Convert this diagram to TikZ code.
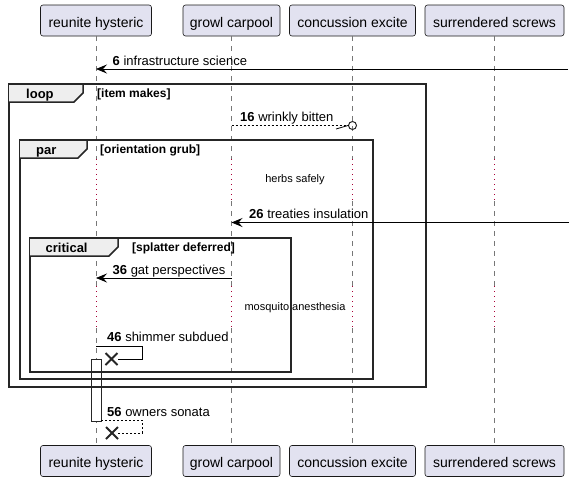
\documentclass[tikz,border=0pt]{standalone}
\usepackage{fontspec}
\setmainfont{Liberation Sans}
\usepackage{tikz}
\usetikzlibrary{arrows.meta, calc, shapes.misc}

\definecolor{partfill}{HTML}{E2E2F0}
\definecolor{tabfill}{HTML}{EEEEEE}
\definecolor{delayred}{HTML}{A80036}
\definecolor{lifegray}{HTML}{777777}

\begin{document}
\begin{tikzpicture}[x=1pt, y=-1pt,
  participant/.style={draw=black!90, fill=partfill, rounded corners=2.5pt, line width=0.6pt,
    minimum height=31pt, inner sep=0pt, text height=13pt, text depth=0pt,
    font=\fontsize{14}{16}\selectfont},
  lifeline/.style={draw=lifegray, line width=0.8pt, dash pattern=on 5pt off 5pt},
  delayline/.style={draw=delayred, line width=1pt, dash pattern=on 1pt off 4pt},
  msg/.style={line width=0.8pt, -{Stealth[length=11pt, width=9pt, inset=4pt]}},
  msgtext/.style={anchor=base west, inner sep=0pt, font=\fontsize{13}{15}\selectfont},
  delaytext/.style={inner sep=0pt, font=\fontsize{11}{13}\selectfont},
  groupframe/.style={draw=black!85, line width=1.5pt},
  grouptab/.style={draw=black!85, line width=1.5pt, fill=tabfill},
  tabtext/.style={anchor=base west, inner sep=0pt, font=\fontsize{13}{15}\selectfont\bfseries},
  condtext/.style={anchor=base west, inner sep=0pt, font=\fontsize{12}{14}\selectfont\bfseries},
  killmark/.style={cross out, draw=black!85, line width=2pt, minimum size=10pt, inner sep=0pt}
  ]
  \useasboundingbox (0,0) rectangle (574,482);

  % participantes
  \node[participant, minimum width=111pt] (pa) at (96,20.5) {reunite hysteric};
  \node[participant, minimum width=97pt] (pb) at (231.5,20.5) {growl carpool};
  \node[participant, minimum width=126pt] (pc) at (352.5,20.5) {concussion excite};
  \node[participant, minimum width=139pt] (pd) at (494.5,20.5) {surrendered screws};
  \node[participant, minimum width=111pt] (qa) at (96,461) {reunite hysteric};
  \node[participant, minimum width=97pt] (qb) at (231.5,461) {growl carpool};
  \node[participant, minimum width=126pt] (qc) at (352.5,461) {concussion excite};
  \node[participant, minimum width=139pt] (qd) at (494.5,461) {surrendered screws};

  % linhas de vida
  \foreach \p/\q in {pa/qa, pb/qb, pc/qc, pd/qd} {
    \draw[lifeline] (\p.south) -- (\p |- 0,159);
    \draw[delayline] (\p |- 0,159) -- (\p |- 0,201);
    \draw[lifeline] (\p |- 0,201) -- (\p |- 0,286);
    \draw[delayline] (\p |- 0,286) -- (\p |- 0,328);
    \draw[lifeline] (\p |- 0,328) -- (\q.north);
  }
  \node[draw=black!85, fill=white, line width=0.8pt, minimum width=10pt, minimum height=62pt,
    inner sep=0pt] (act) at (96,390) {};

  % grupos
  \draw[groupframe] (9,84) rectangle (426,387);
  \draw[grouptab] (9,84) -- (83,84) -- (83,93) -- (74,102) -- (9,102);
  \node[tabtext] (tloop) at (26,98) {loop};
  \node[condtext] (cloop) at (97,97.5) {[item makes]};

  \draw[groupframe] (20,140) rectangle (373,379);
  \draw[grouptab] (20,140) -- (87,140) -- (87,149) -- (78,158) -- (20,158);
  \node[tabtext] (tpar) at (36,154) {par};
  \node[condtext] (cpar) at (100,153.5) {[orientation grub]};

  \draw[groupframe] (30,238) rectangle (291,372);
  \draw[grouptab] (30,238) -- (118,238) -- (118,247) -- (109,256) -- (30,256);
  \node[tabtext] (tcrit) at (45.5,252) {critical};
  \node[condtext] (ccrit) at (132,251.5) {[splatter deferred]};

  % mensagens
  \coordinate (e6) at (568,69);
  \draw[msg] (e6) -- (pa |- e6);
  \node[msgtext] (t6) at (112.5,65) {\textbf{6} infrastructure science};

  \node[draw=black!85, circle, line width=1pt, minimum size=8pt, inner sep=0pt] (o16) at (352.5,125.5) {};
  \draw[line width=0.8pt, dash pattern=on 2pt off 2pt] (pb |- o16) -- (o16.west);
  \draw[line width=0.8pt] (o16.west) -- ++(-12,3.5);
  \node[msgtext] (t16) at (240,121) {\textbf{16} wrinkly bitten};

  \node[delaytext] (d1) at (295,180) {herbs safely};

  \coordinate (e26) at (569,222.5);
  \draw[msg] (e26) -- (pb |- e26);
  \node[msgtext] (t26) at (249,218) {\textbf{26} treaties insulation};

  \coordinate (s36) at (pb |- 0,278);
  \draw[msg] (s36) -- (pa |- s36);
  \node[msgtext] (t36) at (112.5,274) {\textbf{36} gat perspectives};

  \node[delaytext] (d2) at (295,308) {mosquito anesthesia};

  \coordinate (s46) at (pa |- 0,346);
  \coordinate (c46) at (142,346);
  \node[killmark] (x46) at (111.5,359) {};
  \draw[line width=0.8pt] (s46) -- (c46) |- (x46.east);
  \node[msgtext] (t46) at (107,341.5) {\textbf{46} shimmer subdued};

  \coordinate (s56) at (act.east |- 0,420);
  \coordinate (c56) at (142,420);
  \node[killmark] (x56) at (112,433) {};
  \draw[line width=0.8pt, dash pattern=on 2pt off 2pt] (s56) -- (c56) |- (x56.east);
  \node[msgtext] (t56) at (107,416) {\textbf{56} owners sonata};
\end{tikzpicture}
\end{document}
